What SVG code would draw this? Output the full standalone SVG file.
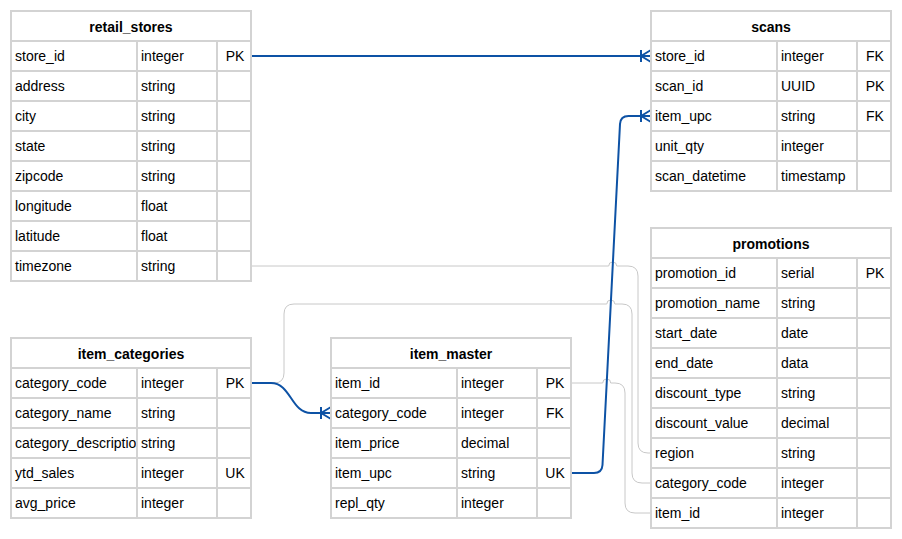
<svg xmlns="http://www.w3.org/2000/svg" width="902" height="539" viewBox="0 0 902 539">
  <style>
    .frame { fill: #ffffff; stroke: #d3d3d3; stroke-width: 2; }
    .grid { stroke: #d3d3d3; stroke-width: 2; fill: none; }
    .title { font-family: "Liberation Sans", Arial, sans-serif; font-size: 14px; font-weight: bold; fill: #000; text-anchor: middle; }
    .cell { font-family: "Liberation Sans", Arial, sans-serif; font-size: 14px; fill: #000; }
    .key { font-family: "Liberation Sans", Arial, sans-serif; font-size: 14px; fill: #000; text-anchor: middle; }
    .rel { fill: none; stroke: #0d52a5; stroke-width: 2; }
    .ref { fill: none; stroke: #c8c8c8; stroke-width: 1; }
  </style>
  <defs>
    <marker id="oneToMany" markerUnits="userSpaceOnUse" markerWidth="16" markerHeight="16" viewBox="0 0 16 16" refX="13" refY="8" orient="auto">
      <path d="M3,2 L3,14 M3,8 L13,2 M3,8 L13,8 M3,8 L13,14" fill="none" stroke="#0d52a5" stroke-width="2"/>
    </marker>
    <clipPath id="clipDesc">
      <rect x="12" y="428" width="124" height="30"/>
    </clipPath>
  </defs>
  <rect width="902" height="539" fill="#ffffff"/>

  <!-- relationship lines -->
  <g id="connectors">
    <path class="ref" d="M251,266 L608.7,266 A4,4 0 0 1 616.7,266 L628,266 Q638,266 638,276 L638,443 Q638,453 648,453 L651,453"/>
    <path class="ref" d="M251,383 L274,383 Q284,383 284,373 L284,314 Q284,304 294,304 L606.8,304 A4,4 0 0 1 614.8,304 L622,304 Q632,304 632,314 L632,473 Q632,483 642,483 L651,483"/>
    <path class="ref" d="M571,383 L602.7,383 A4,4 0 0 1 610.7,383 L615,383 Q625,383 625,393 L625,503 Q625,513 635,513 L651,513"/>
    <path class="rel" d="M251,56 L651,56" marker-end="url(#oneToMany)"/>
    <path class="rel" d="M571,473 L594,473 Q602,473 602.5,465 L620,124 Q620.5,116 628.5,116 L651,116" marker-end="url(#oneToMany)"/>
    <path class="rel" d="M251,383 L271,383 C291,383 291,413 311,413 L331,413" marker-end="url(#oneToMany)"/>
  </g>

  <g id="retail_stores">
    <rect class="frame" x="11" y="11" width="240" height="270"/>
    <path class="grid" d="M11,41 H251 M11,71 H251 M11,101 H251 M11,131 H251 M11,161 H251 M11,191 H251 M11,221 H251 M11,251 H251 M137,41 V281 M217,41 V281"/>
    <text class="title" x="131" y="32">retail_stores</text>
    <text class="cell" x="15" y="61">store_id</text><text class="cell" x="141" y="61">integer</text><text class="key" x="235" y="61">PK</text>
    <text class="cell" x="15" y="91">address</text><text class="cell" x="141" y="91">string</text>
    <text class="cell" x="15" y="121">city</text><text class="cell" x="141" y="121">string</text>
    <text class="cell" x="15" y="151">state</text><text class="cell" x="141" y="151">string</text>
    <text class="cell" x="15" y="181">zipcode</text><text class="cell" x="141" y="181">string</text>
    <text class="cell" x="15" y="211">longitude</text><text class="cell" x="141" y="211">float</text>
    <text class="cell" x="15" y="241">latitude</text><text class="cell" x="141" y="241">float</text>
    <text class="cell" x="15" y="271">timezone</text><text class="cell" x="141" y="271">string</text>
  </g>

  <g id="item_categories">
    <rect class="frame" x="11" y="338" width="240" height="180"/>
    <path class="grid" d="M11,368 H251 M11,398 H251 M11,428 H251 M11,458 H251 M11,488 H251 M137,368 V518 M217,368 V518"/>
    <text class="title" x="131" y="359">item_categories</text>
    <text class="cell" x="15" y="388">category_code</text><text class="cell" x="141" y="388">integer</text><text class="key" x="235" y="388">PK</text>
    <text class="cell" x="15" y="418">category_name</text><text class="cell" x="141" y="418">string</text>
    <text class="cell" x="15" y="448" clip-path="url(#clipDesc)">category_description</text><text class="cell" x="141" y="448">string</text>
    <text class="cell" x="15" y="478">ytd_sales</text><text class="cell" x="141" y="478">integer</text><text class="key" x="235" y="478">UK</text>
    <text class="cell" x="15" y="508">avg_price</text><text class="cell" x="141" y="508">integer</text>
  </g>

  <g id="item_master">
    <rect class="frame" x="331" y="338" width="240" height="180"/>
    <path class="grid" d="M331,368 H571 M331,398 H571 M331,428 H571 M331,458 H571 M331,488 H571 M457,368 V518 M537,368 V518"/>
    <text class="title" x="451" y="359">item_master</text>
    <text class="cell" x="335" y="388">item_id</text><text class="cell" x="461" y="388">integer</text><text class="key" x="555" y="388">PK</text>
    <text class="cell" x="335" y="418">category_code</text><text class="cell" x="461" y="418">integer</text><text class="key" x="555" y="418">FK</text>
    <text class="cell" x="335" y="448">item_price</text><text class="cell" x="461" y="448">decimal</text>
    <text class="cell" x="335" y="478">item_upc</text><text class="cell" x="461" y="478">string</text><text class="key" x="555" y="478">UK</text>
    <text class="cell" x="335" y="508">repl_qty</text><text class="cell" x="461" y="508">integer</text>
  </g>

  <g id="scans">
    <rect class="frame" x="651" y="11" width="240" height="180"/>
    <path class="grid" d="M651,41 H891 M651,71 H891 M651,101 H891 M651,131 H891 M651,161 H891 M777,41 V191 M857,41 V191"/>
    <text class="title" x="771" y="32">scans</text>
    <text class="cell" x="655" y="61">store_id</text><text class="cell" x="781" y="61">integer</text><text class="key" x="875" y="61">FK</text>
    <text class="cell" x="655" y="91">scan_id</text><text class="cell" x="781" y="91">UUID</text><text class="key" x="875" y="91">PK</text>
    <text class="cell" x="655" y="121">item_upc</text><text class="cell" x="781" y="121">string</text><text class="key" x="875" y="121">FK</text>
    <text class="cell" x="655" y="151">unit_qty</text><text class="cell" x="781" y="151">integer</text>
    <text class="cell" x="655" y="181">scan_datetime</text><text class="cell" x="781" y="181">timestamp</text>
  </g>

  <g id="promotions">
    <rect class="frame" x="651" y="228" width="240" height="300"/>
    <path class="grid" d="M651,258 H891 M651,288 H891 M651,318 H891 M651,348 H891 M651,378 H891 M651,408 H891 M651,438 H891 M651,468 H891 M651,498 H891 M777,258 V528 M857,258 V528"/>
    <text class="title" x="771" y="249">promotions</text>
    <text class="cell" x="655" y="278">promotion_id</text><text class="cell" x="781" y="278">serial</text><text class="key" x="875" y="278">PK</text>
    <text class="cell" x="655" y="308">promotion_name</text><text class="cell" x="781" y="308">string</text>
    <text class="cell" x="655" y="338">start_date</text><text class="cell" x="781" y="338">date</text>
    <text class="cell" x="655" y="368">end_date</text><text class="cell" x="781" y="368">data</text>
    <text class="cell" x="655" y="398">discount_type</text><text class="cell" x="781" y="398">string</text>
    <text class="cell" x="655" y="428">discount_value</text><text class="cell" x="781" y="428">decimal</text>
    <text class="cell" x="655" y="458">region</text><text class="cell" x="781" y="458">string</text>
    <text class="cell" x="655" y="488">category_code</text><text class="cell" x="781" y="488">integer</text>
    <text class="cell" x="655" y="518">item_id</text><text class="cell" x="781" y="518">integer</text>
  </g>
</svg>
